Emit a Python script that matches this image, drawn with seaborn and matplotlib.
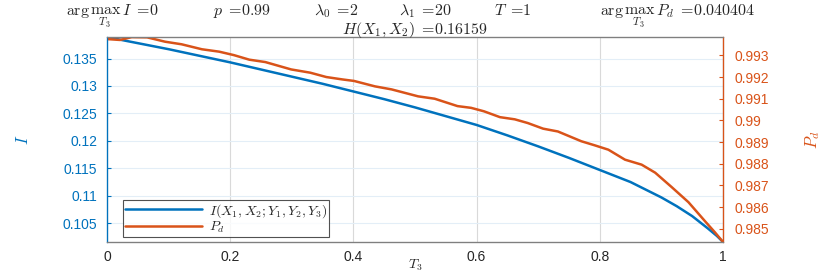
import numpy as np
import pandas as pd
import seaborn as sns
import matplotlib
matplotlib.use('Agg')
import matplotlib.pyplot as plt
from matplotlib.ticker import FuncFormatter

# mutual information I(X1,X2;Y1,Y2,Y3) vs T3
t_info = [0.0, 0.05, 0.10, 0.15, 0.20, 0.25, 0.30, 0.35, 0.40, 0.45, 0.50, 0.55,
          0.60, 0.65, 0.70, 0.75, 0.80, 0.85, 0.90, 0.925, 0.95, 0.975, 0.99, 1.0]
info = [0.1389, 0.1378, 0.1367, 0.1355, 0.1343, 0.1330, 0.1317, 0.1304, 0.1290,
        0.1276, 0.1261, 0.1245, 0.1229, 0.1210, 0.1190, 0.1169, 0.1147, 0.1125,
        0.1097, 0.1081, 0.1063, 0.1041, 0.1027, 0.1016]

# detection probability P_d vs T3
t_pd = [0.000, 0.021, 0.040, 0.065, 0.094, 0.121, 0.154, 0.182, 0.206, 0.231,
        0.257, 0.299, 0.330, 0.356, 0.382, 0.401, 0.435, 0.462, 0.505, 0.532,
        0.569, 0.591, 0.612, 0.638, 0.662, 0.683, 0.708, 0.732, 0.770, 0.792,
        0.814, 0.841, 0.868, 0.890, 0.917, 0.944, 0.971, 0.987, 1.000]
pd_vals = [0.99375, 0.99371, 0.99384, 0.99383, 0.99363, 0.99351, 0.99328, 0.99317,
           0.99301, 0.99280, 0.99269, 0.99235, 0.99220, 0.99200, 0.99189, 0.99182,
           0.99157, 0.99143, 0.99111, 0.99100, 0.99066, 0.99058, 0.99042, 0.99015,
           0.99005, 0.98988, 0.98962, 0.98949, 0.98904, 0.98885, 0.98865, 0.98819,
           0.98796, 0.98759, 0.98692, 0.98623, 0.98535, 0.98484, 0.98440]

x_ticks = [0, 0.2, 0.4, 0.6, 0.8, 1]
left_ticks = [0.105, 0.11, 0.115, 0.12, 0.125, 0.13, 0.135]
right_ticks = [0.985, 0.986, 0.987, 0.988, 0.989, 0.99, 0.991, 0.992, 0.993]

# title pieces (first line) and where they sit across the figure
title_parts = [r'$\arg\max_{T_3}\,I\;=\!0$', r'$p\;=\!0.99$', r'$\lambda_0\;=\!2$',
               r'$\lambda_1\;=\!20$', r'$T\;=\!1$', r'$\arg\max_{T_3}\,P_d\;=\!0.040404$']
title_x = [112, 242, 336, 425, 513, 678]
subtitle = r'$H(X_1,X_2)\;=\!0.16159$'

blue = '#0072BD'
orange = '#D95319'

sns.set_style('white')
plt.rcParams['font.family'] = ['Liberation Sans', 'DejaVu Sans']
plt.rcParams['mathtext.fontset'] = 'cm'

df_i = pd.DataFrame({'T3': t_info, 'I': info})
df_p = pd.DataFrame({'T3': t_pd, 'Pd': pd_vals})

fig = plt.figure(figsize=(8.3, 2.73), dpi=100)
ax = fig.add_axes([0.129, 0.114, 0.742, 0.750])
ax2 = ax.twinx()

sns.lineplot(data=df_i, x='T3', y='I', ax=ax, color=blue, linewidth=1.8,
             label=r'$I(X_1,X_2;Y_1,Y_2,Y_3)$', legend=False)
sns.lineplot(data=df_p, x='T3', y='Pd', ax=ax2, color=orange, linewidth=1.8,
             label=r'$P_d$', legend=False)

ax.set_xlim(0, 1)
ax.set_ylim(min(info), max(info))
ax2.set_ylim(min(pd_vals), max(pd_vals))

fmt = FuncFormatter(lambda v, p: '%g' % v)
ax.set_xticks(x_ticks)
ax.xaxis.set_major_formatter(fmt)
ax.set_yticks(left_ticks)
ax.yaxis.set_major_formatter(fmt)
ax2.set_yticks(right_ticks)
ax2.yaxis.set_major_formatter(fmt)

ax.tick_params(axis='x', direction='in', length=3, colors='#262626', labelsize=10, pad=6)
ax.tick_params(axis='y', direction='in', length=3, colors=blue, labelsize=10, pad=7)
ax2.tick_params(axis='y', direction='in', length=3, colors=orange, labelsize=10, pad=8)

# grid: vertical grey, horizontal faint blue
ax.grid(True, axis='x', color='#d9d9d9', linewidth=0.8)
ax.grid(True, axis='y', color='#e3eef7', linewidth=0.8)
ax.set_axisbelow(True)

for s in ['top', 'bottom']:
    ax.spines[s].set_color('#7f7f7f')
    ax2.spines[s].set_color('#7f7f7f')
ax2.spines['left'].set_color(blue)
ax.spines['left'].set_color(blue)
ax2.spines['right'].set_color(orange)
for s in ax2.spines.values():
    s.set_linewidth(0.9)

ax.set_xlabel(r'$T_3$', fontsize=10, labelpad=-5)
ax.set_ylabel(r'$I$', fontsize=12, color=blue, labelpad=23)
ax2.set_ylabel(r'$P_d$', fontsize=12, color=orange, labelpad=25)

for txt, xp in zip(title_parts, title_x):
    fig.text(xp / 830, 1 - 15 / 273, txt, ha='center', va='baseline', fontsize=11.5)
fig.text(0.5, 1 - 34 / 273, subtitle, ha='center', va='baseline', fontsize=11.5)

h1, l1 = ax.get_legend_handles_labels()
h2, l2 = ax2.get_legend_handles_labels()
leg = ax2.legend(h1 + h2, l1 + l2, loc='lower left', bbox_to_anchor=(0.022, 0.01),
                 fontsize=10, frameon=True, fancybox=False, handlelength=5.5,
                 borderpad=0.15, labelspacing=0.0, handletextpad=0.5, borderaxespad=0.2)
leg.get_frame().set_edgecolor('#262626')
leg.get_frame().set_linewidth(0.8)

fig.savefig('out.png', dpi=100)
